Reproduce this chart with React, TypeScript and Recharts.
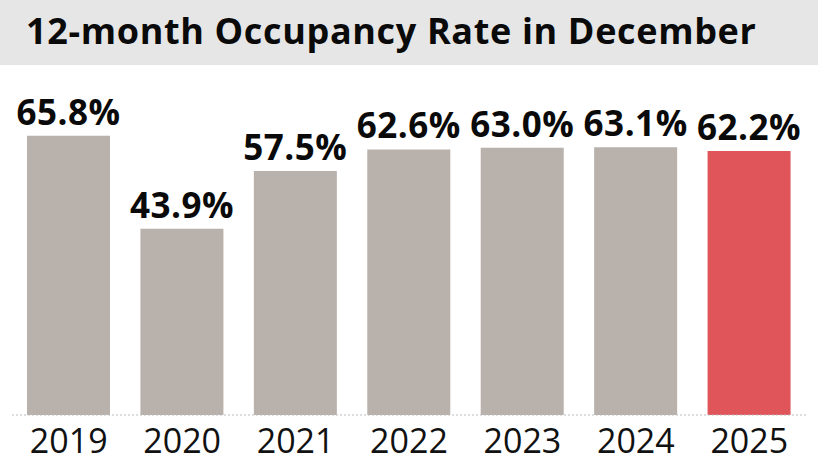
import { Bar, BarChart, Cell, LabelList, XAxis, YAxis } from 'recharts'

const years = ['2019', '2020', '2021', '2022', '2023', '2024', '2025']
const occupancy = [65.8, 43.9, 57.5, 62.6, 63.0, 63.1, 62.2]
const highlightYear = '2025'

const chartData = years.map((year, i) => ({ year, rate: occupancy[i] }))

const baseFont = '"Open Sans", sans-serif'
const barGrey = '#b9b1ac'
const barRed = '#e0555a'

function YearTick(props: any) {
  const { x, y, payload } = props
  return (
    <text
      x={x}
      y={y + 38}
      textAnchor="middle"
      fontFamily={baseFont}
      fontSize={34}
      fill="#111"
    >
      {payload.value}
    </text>
  )
}

export default function App() {
  return (
    <div
      style={{
        position: 'absolute',
        left: 0,
        top: 0,
        width: 820,
        height: 474,
        background: '#fff',
        overflow: 'hidden',
      }}
    >
      <div
        style={{
          position: 'absolute',
          left: 0,
          top: 0,
          width: 818,
          height: 65,
          background: '#e6e6e6',
        }}
      />
      <div
        style={{
          position: 'absolute',
          left: 26,
          top: 6,
          fontFamily: baseFont,
          fontWeight: 700,
          fontSize: 36,
          letterSpacing: 0.65,
          lineHeight: '50px',
          color: '#0a0a0a',
          whiteSpace: 'nowrap',
        }}
      >
        12-month Occupancy Rate in December
      </div>
      <div style={{ position: 'absolute', left: 0, top: 0 }}>
        <BarChart
          width={820}
          height={474}
          data={chartData}
          margin={{ top: 118, right: 14, bottom: 0, left: 12 }}
          barCategoryGap={15}
        >
          <XAxis
            dataKey="year"
            height={59}
            tickLine={false}
            tickSize={0}
            tickMargin={0}
            axisLine={{ stroke: '#bdbdbd', strokeDasharray: '2 2' }}
            tick={<YearTick />}
            interval={0}
          />
          <YAxis hide domain={[0, 70]} />
          <Bar dataKey="rate" isAnimationActive={false}>
            {chartData.map((d) => (
              <Cell key={d.year} fill={d.year === highlightYear ? barRed : barGrey} />
            ))}
            <LabelList
              dataKey="rate"
              position="top"
              offset={11}
              formatter={(v: any) => `${Number(v).toFixed(1)}%`}
              style={{
                fontFamily: baseFont,
                fontWeight: 700,
                fontSize: 35,
                letterSpacing: 0.5,
                fill: '#0a0a0a',
              }}
            />
          </Bar>
        </BarChart>
      </div>
    </div>
  )
}
